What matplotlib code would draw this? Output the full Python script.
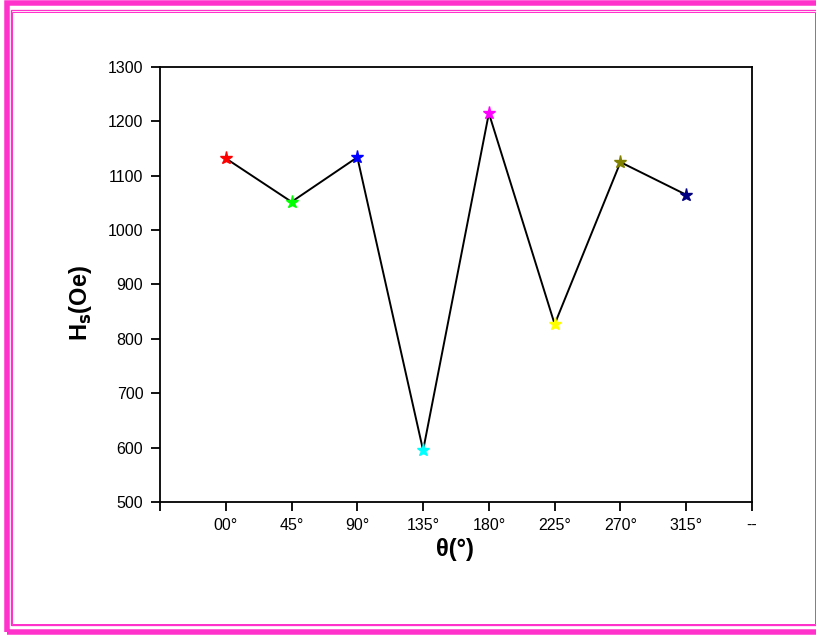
import matplotlib.pyplot as plt
from matplotlib.patches import Rectangle

# data
angles = ['00°', '45°', '90°', '135°', '180°', '225°', '270°', '315°']
hs_values = [1132, 1052, 1134, 595, 1215, 827, 1125, 1065]
star_colors = ['#ff0000', '#00ff00', '#0000ff', '#00ffff',
               '#ff00ff', '#ffff00', '#808000', '#000080']

W, H = 816, 635
pink = '#ff33cc'

fig = plt.figure(figsize=(W / 100, H / 100), dpi=100)
plt.rcParams['font.family'] = ['Liberation Sans', 'DejaVu Sans']


def px_rect(x0, y0, x1, y1, lw_px):
    # rectangle given in pixel coords measured from the top-left corner
    r = Rectangle((x0 / W, 1 - y1 / H), (x1 - x0) / W, (y1 - y0) / H,
                  transform=fig.transFigure, fill=False, edgecolor=pink,
                  linewidth=lw_px * 0.72, clip_on=False)
    fig.add_artist(r)


# page frame
px_rect(6.5, 3, 822, 632, 5.5)
px_rect(10.5, 9.7, 817.5, 625.3, 1.3)
px_rect(12.2, 11.7, 815.2, 623.8, 1.0)

ax = fig.add_axes([160 / W, 1 - 502 / H, (752 - 160) / W, (502 - 67) / H])

x = list(range(1, len(angles) + 1))
ax.plot(x, hs_values, color='black', linewidth=1.4, zorder=2)
for xi, yi, c in zip(x, hs_values, star_colors):
    ax.plot(xi, yi, marker='*', color=c, markersize=9.5, linestyle='none', zorder=3)

ax.set_xlim(0, 9)
ax.set_ylim(500, 1300)
ax.set_xticks(range(0, 10))
ax.set_xticklabels([''] + angles + ['--'])
ax.set_yticks(range(500, 1301, 100))

for s in ax.spines.values():
    s.set_linewidth(1.3)
ax.tick_params(direction='out', length=6.5, width=1.3, labelsize=11.5)
ax.tick_params(axis='x', pad=5)
ax.tick_params(axis='y', pad=5.5)

ax.set_xlabel('θ(°)', fontsize=17, fontweight='bold')
ax.set_ylabel('H$_\\mathbf{s}$(Oe)', fontsize=17, fontweight='bold')
ax.xaxis.set_label_coords(0.498, -0.11)
ax.xaxis.label.set_va('center')
ax.yaxis.set_label_coords(-0.135, 0.457)
ax.yaxis.label.set_va('center')

fig.savefig('out.png', dpi=100)
